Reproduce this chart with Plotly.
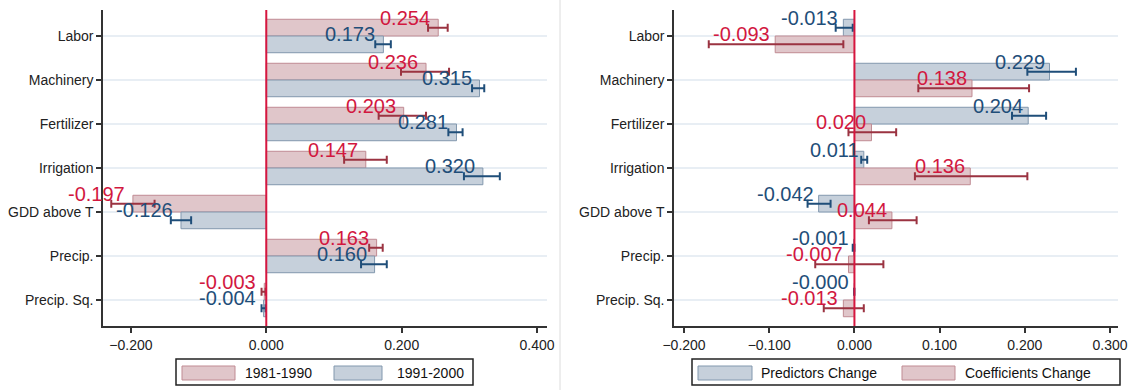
import plotly.graph_objects as go

# ---- data -------------------------------------------------------------
categories = ["Labor", "Machinery", "Fertilizer", "Irrigation",
              "GDD above T", "Precip.", "Precip. Sq."]

# left panel: elasticities by decade
dec1_val = [0.254, 0.236, 0.203, 0.147, -0.197, 0.163, -0.003]
dec1_lo = [0.239, 0.199, 0.166, 0.115, -0.229, 0.152, -0.007]
dec1_hi = [0.268, 0.270, 0.236, 0.178, -0.165, 0.172, -0.001]

dec2_val = [0.173, 0.315, 0.281, 0.320, -0.126, 0.160, -0.004]
dec2_lo = [0.161, 0.304, 0.269, 0.292, -0.141, 0.140, -0.007]
dec2_hi = [0.184, 0.322, 0.290, 0.345, -0.111, 0.178, -0.001]

# right panel: decomposition of the change
pred_val = [-0.013, 0.229, 0.204, 0.011, -0.042, -0.001, -0.0002]
pred_lo = [-0.022, 0.203, 0.185, 0.008, -0.055, -0.002, -0.0004]
pred_hi = [-0.002, 0.260, 0.225, 0.015, -0.028, 0.000, 0.0000]

coef_val = [-0.093, 0.138, 0.020, 0.136, 0.044, -0.007, -0.013]
coef_lo = [-0.171, 0.075, -0.007, 0.071, 0.017, -0.046, -0.036]
coef_hi = [-0.013, 0.205, 0.049, 0.203, 0.073, 0.034, 0.011]

left_ticks = [-0.2, 0.0, 0.2, 0.4]
right_ticks = [-0.2, -0.1, 0.0, 0.1, 0.2, 0.3]

# ---- styling ------------------------------------------------------------
FONT = "Arial, Liberation Sans, sans-serif"
RED_FILL, RED_LINE, RED_TXT, RED_ERR = "#e0c6ca", "#c08b93", "#d2183f", "#9b3341"
BLUE_FILL, BLUE_LINE, BLUE_TXT, BLUE_ERR = "#c6d0db", "#8298ae", "#1f4e79", "#1f4e79"
BAR_W = 0.38
W, H = 1133, 390

fig = go.Figure()
annotations = []


def add_series(vals, lo, hi, offset, fill, line, txt, err, xa, ya, xshift):
    ys = [i + offset for i in range(len(vals))]
    fig.add_trace(go.Bar(
        orientation="h", x=vals, y=ys, width=BAR_W,
        marker=dict(color=fill, line=dict(color=line, width=1)),
        error_x=dict(type="data", symmetric=False,
                     array=[h - v for v, h in zip(vals, hi)],
                     arrayminus=[v - l for v, l in zip(vals, lo)],
                     color=err, thickness=2, width=4),
        xaxis=xa, yaxis=ya, showlegend=False, hoverinfo="skip"))
    for v, y in zip(vals, ys):
        annotations.append(dict(
            x=v, y=y, xref=xa, yref=ya, text=f"{v:.3f}", showarrow=False,
            xanchor="right", yanchor="middle", xshift=xshift, yshift=10,
            font=dict(family=FONT, size=20, color=txt)))


add_series(dec1_val, dec1_lo, dec1_hi, -BAR_W / 2, RED_FILL, RED_LINE, RED_TXT, RED_ERR, "x", "y", -6)
add_series(dec2_val, dec2_lo, dec2_hi, BAR_W / 2, BLUE_FILL, BLUE_LINE, BLUE_TXT, BLUE_ERR, "x", "y", -6)
add_series(pred_val, pred_lo, pred_hi, -BAR_W / 2, BLUE_FILL, BLUE_LINE, BLUE_TXT, BLUE_ERR, "x2", "y2", -3)
add_series(coef_val, coef_lo, coef_hi, BAR_W / 2, RED_FILL, RED_LINE, RED_TXT, RED_ERR, "x2", "y2", -3)

ncat = len(categories)
yrange = [ncat - 1 + 0.5909, -0.5909]
ydom = [(H - 326) / H, (H - 10) / H]

common_x = dict(showgrid=False, zeroline=False, showline=True, linecolor="#333333",
                linewidth=1.5, ticks="outside", ticklen=5, tickwidth=1.5,
                tickcolor="#333333", tickformat=".3f", automargin=False,
                tickfont=dict(family=FONT, size=14, color="#222222"))
common_y = dict(tickvals=list(range(ncat)), ticktext=categories, range=yrange,
                showgrid=True, gridcolor="#e8eef4", gridwidth=2, zeroline=False,
                showline=True, linecolor="#333333", linewidth=1.5, automargin=False,
                ticks="outside", ticklen=5, tickwidth=1.5, tickcolor="#333333",
                tickfont=dict(family=FONT, size=14, color="#222222"), domain=ydom)

fig.update_layout(
    width=W, height=H, margin=dict(l=0, r=0, t=0, b=0, autoexpand=False),
    paper_bgcolor="white", plot_bgcolor="white", barmode="overlay",
    xaxis=dict(domain=[103 / W, 547 / W], range=[-0.2412, 0.4147],
               tickvals=left_ticks, anchor="y", **common_x),
    yaxis=dict(anchor="x", **common_y),
    xaxis2=dict(domain=[674 / W, 1118 / W], range=[-0.2118, 0.3094],
                tickvals=right_ticks, anchor="y2", **common_x),
    yaxis2=dict(anchor="x2", **common_y),
)

shapes = []
# zero reference lines
for xa, ya in (("x", "y"), ("x2", "y2")):
    shapes.append(dict(type="line", xref=xa, yref=f"{ya} domain", x0=0, x1=0,
                       y0=0, y1=1, line=dict(color="#d6163f", width=2), layer="above"))
# thin divider between the two panels
shapes.append(dict(type="line", xref="paper", yref="paper", x0=560 / W, x1=560 / W,
                   y0=0, y1=1, line=dict(color="#dcdcdc", width=1)))


def px_x(p):
    return p / W


def px_y(p):
    return (H - p) / H


def legend_box(x0, x1, items):
    shapes.append(dict(type="rect", xref="paper", yref="paper",
                       x0=px_x(x0), x1=px_x(x1), y0=px_y(385), y1=px_y(359),
                       line=dict(color="#222222", width=1.5), fillcolor="white"))
    for sx0, sx1, fill, line, label, tx in items:
        shapes.append(dict(type="rect", xref="paper", yref="paper",
                           x0=px_x(sx0), x1=px_x(sx1), y0=px_y(380), y1=px_y(366),
                           line=dict(color=line, width=1), fillcolor=fill))
        annotations.append(dict(x=px_x(tx), y=px_y(372.5), xref="paper", yref="paper",
                                text=label, showarrow=False, xanchor="left",
                                yanchor="middle",
                                font=dict(family=FONT, size=14, color="#111111")))


legend_box(176, 473, [
    (182, 235, RED_FILL, RED_LINE, "1981-1990", 243),
    (334, 382, BLUE_FILL, BLUE_LINE, "1991-2000", 395),
])
legend_box(692, 1120, [
    (698, 752, BLUE_FILL, BLUE_LINE, "Predictors Change", 759),
    (902, 955, RED_FILL, RED_LINE, "Coefficients Change", 963),
])

fig.update_layout(shapes=shapes, annotations=annotations)
fig.write_html("out.html")
